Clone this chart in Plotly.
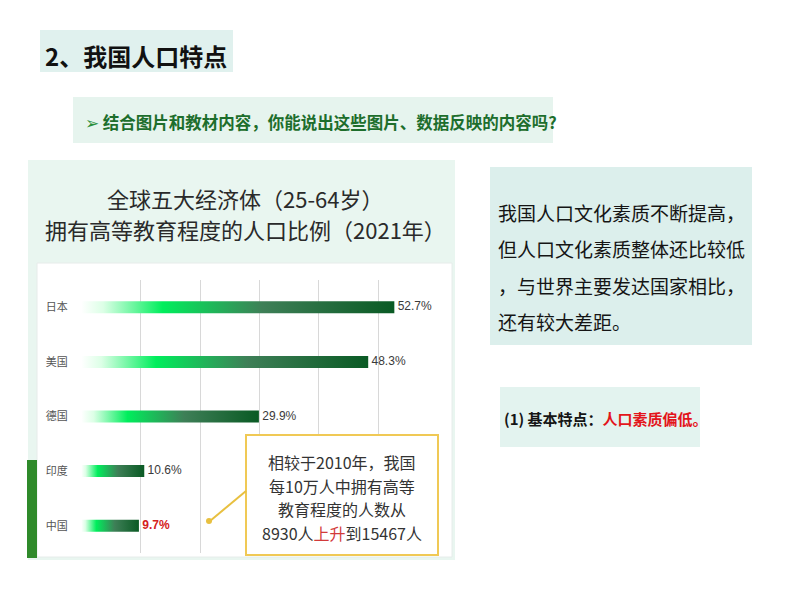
import plotly.graph_objects as go

W, H = 794, 596
FONT = "Noto Sans CJK SC"

# ---- data ----
categories = ["日本", "美国", "德国", "印度", "中国"]
values = [52.7, 48.3, 29.9, 10.6, 9.7]
value_labels = ["52.7%", "48.3%", "29.9%", "10.6%", "9.7%"]
highlight = "中国"

chart_title = ["全球五大经济体（25-64岁）", "拥有高等教育程度的人口比例（2021年）"]
callout_lines = ["相较于2010年，我国", "每10万人中拥有高等", "教育程度的人数从",
                 "8930人<span style='color:#d23a3a'>上升</span>到15467人"]
side_lines = ["我国人口文化素质不断提高，", "但人口文化素质整体还比较低",
              "，与世界主要发达国家相比，", "还有较大差距。"]


def px(x):
    return x / W


def py(y):
    return 1 - y / H


fig = go.Figure()

bar_half = 0.11
grad = [[0, "#ffffff"], [0.07, "#dcffe6"], [0.26, "#00ee5c"],
        [0.58, "#3e7f57"], [1, "#0a5a24"]]
for i, (c, v) in enumerate(zip(categories, values)):
    fig.add_trace(go.Scatter(
        x=[0, v, v, 0, 0],
        y=[i - bar_half, i - bar_half, i + bar_half, i + bar_half, i - bar_half],
        mode="lines", fill="toself", line=dict(width=0),
        fillgradient=dict(type="horizontal", colorscale=grad),
        hoverinfo="skip", showlegend=False))

lab_colors = ["#d42020" if c == highlight else "#3a3a3a" for c in categories]
fig.add_trace(go.Scatter(
    x=values, y=list(range(len(categories))), mode="text",
    text=[(" <b>%s</b>" % t) if c == highlight else " " + t for t, c in zip(value_labels, categories)],
    textposition="middle right",
    textfont=dict(family="Liberation Sans, Arial", size=12, color=lab_colors),
    hoverinfo="skip", showlegend=False))

fig.update_xaxes(
    domain=[px(81), px(438)], range=[-0.05, 60.05], dtick=10, tick0=0,
    showgrid=True, gridcolor="#d8d8d8", gridwidth=1, zeroline=False,
    showticklabels=False, showline=False, fixedrange=True)
fig.update_yaxes(
    domain=[py(553), py(280)], range=[4.5, -0.5],
    tickmode="array", tickvals=list(range(len(categories))), ticktext=categories,
    tickfont=dict(family=FONT, size=11, color="#555555"),
    ticks="outside", ticklen=10, tickcolor="rgba(0,0,0,0)",
    showgrid=False, zeroline=False, showline=False, fixedrange=True)

shapes = [
    # header box
    dict(type="rect", xref="paper", yref="paper", x0=px(40), x1=px(233), y0=py(72), y1=py(30),
         fillcolor="#e0f1ee", line=dict(width=0), layer="below"),
    # subheader box
    dict(type="rect", xref="paper", yref="paper", x0=px(73), x1=px(553), y0=py(143), y1=py(97),
         fillcolor="#e6f4ee", line=dict(width=0), layer="below"),
    # chart panel
    dict(type="rect", xref="paper", yref="paper", x0=px(28), x1=px(455), y0=py(560), y1=py(160),
         fillcolor="#e9f6f0", line=dict(width=0), layer="below"),
    dict(type="rect", xref="paper", yref="paper", x0=px(37), x1=px(452), y0=py(557), y1=py(263),
         fillcolor="#ffffff", line=dict(color="#e6ecea", width=1), layer="below"),
    # leaf strip
    dict(type="rect", xref="paper", yref="paper", x0=px(27), x1=px(37), y0=py(558), y1=py(460),
         fillcolor="#2f8a2a", line=dict(width=0), layer="above"),
    # right text box
    dict(type="rect", xref="paper", yref="paper", x0=px(490), x1=px(752), y0=py(345), y1=py(167),
         fillcolor="#dcefec", line=dict(width=0), layer="below"),
    # bottom-right box
    dict(type="rect", xref="paper", yref="paper", x0=px(500), x1=px(700), y0=py(447), y1=py(387),
         fillcolor="#e3f3ef", line=dict(width=0), layer="below"),
    # callout
    dict(type="rect", xref="paper", yref="paper", x0=px(246), x1=px(438), y0=py(555), y1=py(435),
         fillcolor="#ffffff", line=dict(color="#f0c955", width=2), layer="above"),
    dict(type="line", xref="paper", yref="paper", x0=px(246), x1=px(210), y0=py(491), y1=py(521),
         line=dict(color="#e8c040", width=2), layer="above"),
    dict(type="circle", xref="paper", yref="paper", x0=px(206), x1=px(212), y0=py(524), y1=py(518),
         fillcolor="#e8c040", line=dict(width=0), layer="above"),
]

ann = []
ann.append(dict(text="<b>2、我国人口特点</b>", x=px(43), y=py(55), xanchor="left", yanchor="middle",
                font=dict(family=FONT, size=24, color="#111111")))
ann.append(dict(text="<span style='color:#2a8f3a'>➢</span> <b>结合图片和教材内容，你能说出这些图片、数据反映的内容吗?</b>",
                x=px(83), y=py(122), xanchor="left", yanchor="middle",
                font=dict(family=FONT, size=16.5, color="#1d6e2c")))
for t, y in zip(chart_title, [198, 229]):
    ann.append(dict(text=t, x=px(245), y=py(y), xanchor="center", yanchor="middle",
                    font=dict(family=FONT, size=22, color="#2a2a2a")))
for t, y in zip(callout_lines, [462, 486, 509, 533]):
    ann.append(dict(text=t, x=px(342), y=py(y), xanchor="center", yanchor="middle",
                    font=dict(family=FONT, size=16, color="#333333")))
for t, y in zip(side_lines, [212, 248, 285, 321]):
    ann.append(dict(text=t, x=px(496), y=py(y), xanchor="left", yanchor="middle",
                    font=dict(family=FONT, size=19, color="#151515")))
ann.append(dict(text="<b>(1) 基本特点：<span style='color:#e3151b'>人口素质偏低。</span></b>",
                x=px(502), y=py(418), xanchor="left", yanchor="middle",
                font=dict(family=FONT, size=15, color="#151515")))
for a in ann:
    a.update(xref="paper", yref="paper", showarrow=False)

fig.update_layout(
    width=W, height=H, margin=dict(l=0, r=0, t=0, b=0),
    paper_bgcolor="#ffffff", plot_bgcolor="rgba(0,0,0,0)",
    shapes=shapes, annotations=ann, showlegend=False,
)

fig.write_html("out.html", config={"displayModeBar": False})
